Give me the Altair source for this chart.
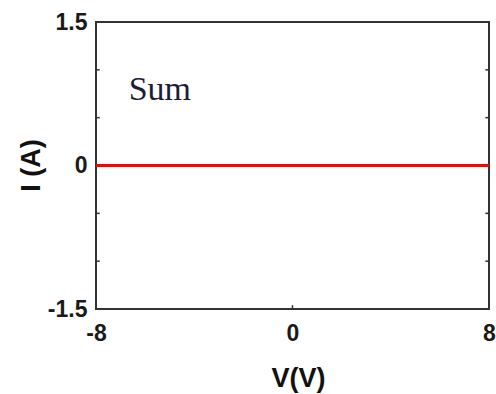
import altair as alt
import pandas as pd

# Data
voltage = [-8, -4, 0, 4, 8]
current_sum = [0, 0, 0, 0, 0]
y_ticks = [-1.5, -1.0, -0.5, 0.0, 0.5, 1.0, 1.5]
y_minor = [-1.0, -0.5, 0.5, 1.0]
x_ticks = [-8, 0, 8]
x_minor = [0]
label_text = ["Sum"]
label_v = [-5.4]
label_i = [0.79]

line_df = pd.DataFrame({"V": voltage, "I": current_sum})
ytick_df = pd.DataFrame({"I": y_minor})
xtick_df = pd.DataFrame({"V": x_minor})
label_df = pd.DataFrame({"V": label_v, "I": label_i, "t": label_text})

xscale = alt.Scale(domain=[-8, 8], nice=False, zero=False)
yscale = alt.Scale(domain=[-1.5, 1.5], nice=False, zero=False)

xaxis = alt.Axis(
    values=x_ticks, title="V(V)", grid=False, domain=False, tickSize=0,
    labelExpr="'' + datum.value",
    labelFont="Liberation Sans", labelFontSize=23, labelFontWeight="bold",
    labelColor="#1a1a1a", labelPadding=13, labelFlush=False,
    titleFont="Liberation Sans", titleFontSize=27, titleFontWeight="bold",
    titleColor="#111111", titleX=202, titleY=69, titleBaseline="middle",
    titleAlign="center", titleAnchor="start",
)
yaxis = alt.Axis(
    values=y_ticks, title="I (A)", grid=False, domain=False, tickSize=0,
    labelExpr="(datum.value == 0 || abs(datum.value) == 1.5) ? ('' + datum.value) : ''",
    labelFont="Liberation Sans", labelFontSize=23, labelFontWeight="bold",
    labelColor="#1a1a1a", labelPadding=9, labelFlush=False,
    titleFont="Liberation Sans", titleFontSize=27, titleFontWeight="bold",
    titleColor="#111111", titleX=-65, titleY=143, titleAngle=-90,
    titleBaseline="middle", titleAlign="center", titleAnchor="start",
)

line = alt.Chart(line_df).mark_line(color="#ff0000", strokeWidth=3).encode(
    x=alt.X("V:Q", scale=xscale, axis=xaxis),
    y=alt.Y("I:Q", scale=yscale, axis=yaxis),
)

left_ticks = alt.Chart(ytick_df).mark_rule(color="#333333", strokeWidth=1.5).encode(
    x=alt.datum(-8, scale=xscale), x2=alt.datum(-7.85), y=alt.Y("I:Q", scale=yscale)
)
right_ticks = alt.Chart(ytick_df).mark_rule(color="#333333", strokeWidth=1.5).encode(
    x=alt.datum(7.85, scale=xscale), x2=alt.datum(8), y=alt.Y("I:Q", scale=yscale)
)
bottom_ticks = alt.Chart(xtick_df).mark_rule(color="#333333", strokeWidth=1.5).encode(
    x=alt.X("V:Q", scale=xscale), y=alt.datum(-1.5, scale=yscale), y2=alt.datum(-1.46)
)

text = alt.Chart(label_df).mark_text(
    font="Liberation Serif", fontSize=34, color="#1c1c3a", align="center", baseline="middle"
).encode(
    x=alt.X("V:Q", scale=xscale), y=alt.Y("I:Q", scale=yscale), text="t:N"
)

chart = alt.layer(line, left_ticks, right_ticks, bottom_ticks, text).properties(
    width=393, height=287,
    autosize=alt.AutoSizeParams(type="none"),
    padding={"left": 96, "top": 22, "right": 7, "bottom": 85},
    background="white",
).configure_view(stroke="#333333", strokeWidth=2)

chart.save("out.html", embed_options={"renderer": "svg", "actions": False})
